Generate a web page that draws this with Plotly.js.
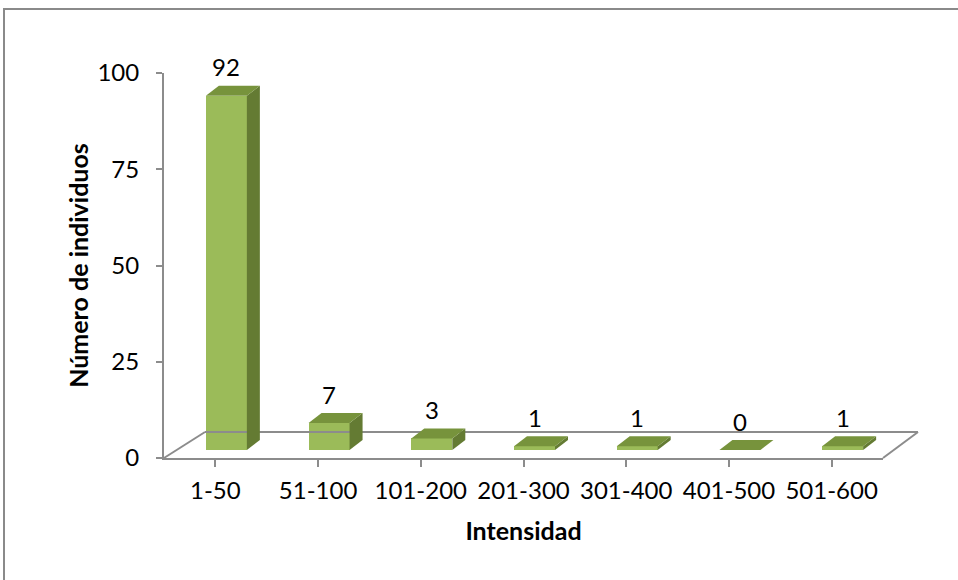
<!DOCTYPE html>
<html>
<head>
<meta charset="utf-8">
<script src="https://cdn.plot.ly/plotly-3.0.1.min.js"></script>
<style>html,body{margin:0;padding:0;background:#fff;}#chart{width:958px;height:580px;}</style>
</head>
<body>
<div id="chart"></div>
<script>
// ---- data ----
const categories = ["1-50", "51-100", "101-200", "201-300", "301-400", "401-500", "501-600"];
const counts = [92, 7, 3, 1, 1, 0, 1];
const yTicks = [0, 25, 50, 75, 100];
const xTitle = "Intensidad";
const yTitle = "Número de individuos";

// ---- pseudo-3D geometry (in axis units) ----
const Y_MAX = 100;
const PX_PER_CAT = 719 / 7;
const PX_PER_UNIT = 385 / Y_MAX;
const barW = 41 / PX_PER_CAT;          // front face width
const barOff = -9.5 / PX_PER_CAT;      // front face left edge relative to category centre
const baseY = 8 / PX_PER_UNIT;         // floor depth of bar base
const dX = 13 / PX_PER_CAT;            // depth offset x
const dY = 10 / PX_PER_UNIT;           // depth offset y
const labelGap = 19 / PX_PER_UNIT;

const FRONT = "#9BBB59", TOP = "#77933C", SIDE = "#647B33", GRID = "#8C8C8C";
const FONT = "Lato, 'Open Sans', sans-serif";

const xs = categories.map((c, i) => i);

const barTrace = {
  type: "bar",
  x: xs,
  y: counts,
  base: baseY,
  width: barW,
  offset: barOff,
  marker: {color: FRONT, line: {width: 0}},
  hoverinfo: "skip",
  showlegend: false
};

const shapes = [];
// floor (structural lines, paper coords)
const px = p => (p - 164) / 719, py = p => (458 - p) / 385;
shapes.push({type: "line", xref: "paper", yref: "paper", x0: px(205), y0: py(432), x1: px(918), y1: py(432), line: {color: GRID, width: 2}});
shapes.push({type: "line", xref: "paper", yref: "paper", x0: 0, y0: 0, x1: px(205), y1: py(432), line: {color: GRID, width: 2}});
shapes.push({type: "line", xref: "paper", yref: "paper", x0: 1, y0: 0, x1: px(918), y1: py(432), line: {color: GRID, width: 2}});
// outer frame
shapes.push({type: "rect", xref: "paper", yref: "paper", x0: px(4), y0: py(9), x1: px(1000), y1: py(620), line: {color: "#8A8A8A", width: 2}, fillcolor: "rgba(0,0,0,0)", layer: "below"});

const annotations = [];
counts.forEach((v, i) => {
  const x0 = i + barOff, x1 = x0 + barW;
  const y0 = baseY, y1 = baseY + v;
  // side face
  shapes.push({type: "path", xref: "x", yref: "y", layer: "above",
    path: `M${x1},${y0} L${x1},${y1} L${x1 + dX},${y1 + dY} L${x1 + dX},${y0 + dY} Z`,
    fillcolor: SIDE, line: {width: 0}});
  // top face
  shapes.push({type: "path", xref: "x", yref: "y", layer: "above",
    path: `M${x0},${y1} L${x1},${y1} L${x1 + dX},${y1 + dY} L${x0 + dX},${y1 + dY} Z`,
    fillcolor: TOP, line: {width: 0}});
  annotations.push({x: (x0 + x1) / 2, y: (y1 + dY + labelGap) / Y_MAX, xref: "x", yref: "paper",
    text: String(v), showarrow: false, xanchor: "center", yanchor: "middle",
    font: {family: FONT, size: 24, color: "#000"}});
});

const layout = {
  width: 958, height: 580,
  margin: {l: 164, r: 75, t: 73, b: 122},
  paper_bgcolor: "#fff", plot_bgcolor: "rgba(0,0,0,0)",
  font: {family: FONT, size: 24, color: "#000"},
  bargap: 0,
  xaxis: {
    range: [-0.5, 6.5], tickmode: "array", tickvals: xs, ticktext: categories,
    tickson: "boundaries", ticks: "outside", ticklen: 7, tickcolor: GRID, tickwidth: 2,
    showline: true, linecolor: GRID, linewidth: 2, showgrid: false, zeroline: false,
    ticklabelstandoff: 3,
    tickfont: {size: 24},
    title: {text: xTitle, font: {size: 25, weight: "bold"}, standoff: 20},
    fixedrange: true
  },
  yaxis: {
    range: [0, Y_MAX], tickmode: "array", tickvals: yTicks,
    ticks: "outside", ticklen: 6, tickcolor: GRID, tickwidth: 2,
    showline: true, linecolor: GRID, linewidth: 2, showgrid: false, zeroline: false,
    ticklabelstandoff: 12,
    tickfont: {size: 24},
    title: {text: yTitle, font: {size: 25, weight: "bold"}, standoff: 2},
    fixedrange: true
  },
  shapes: shapes,
  annotations: annotations
};

Plotly.newPlot("chart", [barTrace], layout, {displayModeBar: false, staticPlot: true});
</script>
</body>
</html>
